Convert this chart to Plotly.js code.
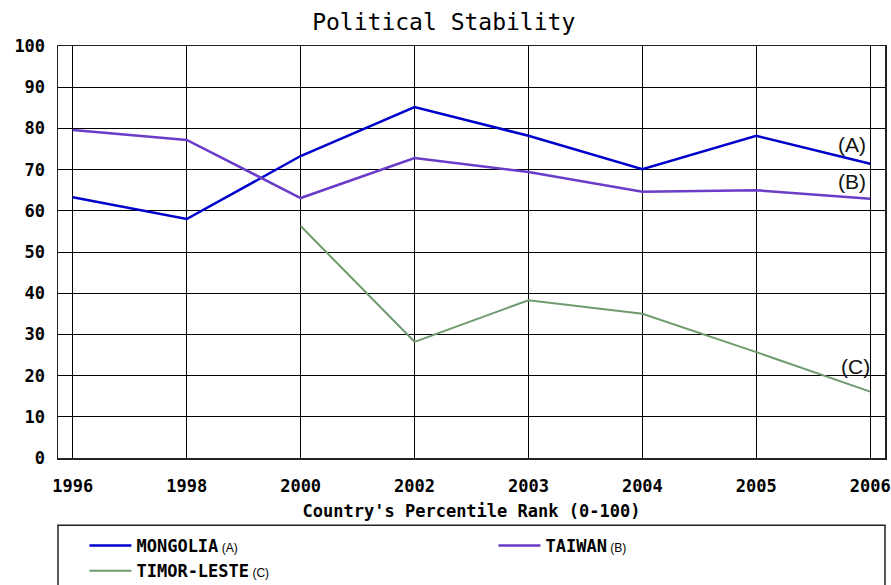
<!DOCTYPE html>
<html>
<head>
<meta charset="utf-8">
<script src="https://cdn.plot.ly/plotly-3.0.1.min.js"></script>
<style>html,body{margin:0;padding:0;background:#fff;}#chart{width:891px;height:585px;}</style>
</head>
<body>
<div id="chart"></div>
<script>
var years = ['1996','1998','2000','2002','2003','2004','2005','2006'];
var mongolia = [63.3, 58.0, 73.3, 85.2, 78.2, 70.1, 78.2, 71.4];
var taiwan = [79.6, 77.2, 63.1, 72.8, 69.4, 64.6, 65.0, 62.9];
var timor = [null, null, 56.3, 28.2, 38.3, 35.0, 25.7, 16.1];
var seriesNames = ['MONGOLIA', 'TAIWAN', 'TIMOR-LESTE'];
var seriesTags = ['(A)', '(B)', '(C)'];
var tagY = [76.2, 67.0, 22.1];
var yTicks = [0, 10, 20, 30, 40, 50, 60, 70, 80, 90, 100];

var mono = '"DejaVu Sans Mono", "Liberation Mono", monospace';
var colors = ['#0000cc', '#6a3dc9', '#6f9a6f'];

function nm(i) {
  return '<b>' + seriesNames[i] + '</b><span style="font-family:Liberation Sans, Arial;font-size:12px;font-weight:normal"> ' + seriesTags[i] + '</span>';
}

var traces = [
  {x: years, y: mongolia, name: nm(0), mode: 'lines', line: {color: colors[0], width: 2.5}},
  {x: years, y: taiwan, name: nm(1), mode: 'lines', line: {color: colors[1], width: 2.5}},
  {x: years, y: timor, name: nm(2), mode: 'lines', line: {color: colors[2], width: 2}}
];

var annotations = seriesTags.map(function (t, i) {
  return {xref: 'paper', yref: 'y', x: [0.96, 0.96, 0.964][i], xanchor: 'center', y: tagY[i], text: t, showarrow: false,
    font: {family: '"Liberation Sans Narrow", "Liberation Sans", Arial', size: 21, color: '#111'}};
});

var layout = {
  width: 891, height: 585,
  paper_bgcolor: '#fff', plot_bgcolor: '#fff',
  margin: {l: 58, r: 6, t: 46, b: 127, autoexpand: false},
  title: {text: 'Political Stability', font: {family: mono, size: 23, color: '#000'},
    x: 0.498, xanchor: 'center', yref: 'container', y: 0.962, yanchor: 'middle'},
  xaxis: {type: 'category', range: [-0.13, 7.13], showgrid: true, gridcolor: '#000', gridwidth: 1,
    showline: true, linecolor: '#222', linewidth: 1.5, mirror: true, zeroline: false,
    ticks: 'outside', ticklen: 12, tickcolor: 'rgba(0,0,0,0)',
    tickfont: {family: mono, size: 17, color: '#000', weight: 'bold'},
    title: {text: "Country's Percentile Rank (0-100)", standoff: 10,
      font: {family: mono, size: 17, color: '#000', weight: 'bold'}}},
  yaxis: {range: [0, 100], tickvals: yTicks, ticktext: yTicks.map(String), showgrid: true, gridcolor: '#000', gridwidth: 1,
    showline: true, linecolor: '#222', linewidth: 1.5, mirror: true, zeroline: false,
    ticks: 'outside', ticklen: 8, tickcolor: 'rgba(0,0,0,0)',
    tickfont: {family: mono, size: 17, color: '#000', weight: 'bold'}},
  showlegend: true,
  legend: {orientation: 'h', x: 0.032, xanchor: 'left', y: -0.17, yanchor: 'top',
    entrywidth: 352, entrywidthmode: 'pixels', tracegroupgap: 0, itemwidth: 42,
    font: {family: mono, size: 17, color: '#000'}, bgcolor: 'rgba(0,0,0,0)', borderwidth: 0},
  shapes: [{type: 'rect', xref: 'paper', yref: 'paper', x0: 0, x1: 1, y0: -0.163, y1: -0.4,
    line: {color: '#222', width: 1.5}, fillcolor: 'rgba(0,0,0,0)', layer: 'below'}],
  annotations: annotations
};

Plotly.newPlot('chart', traces, layout, {displayModeBar: false, staticPlot: true});
</script>
</body>
</html>
